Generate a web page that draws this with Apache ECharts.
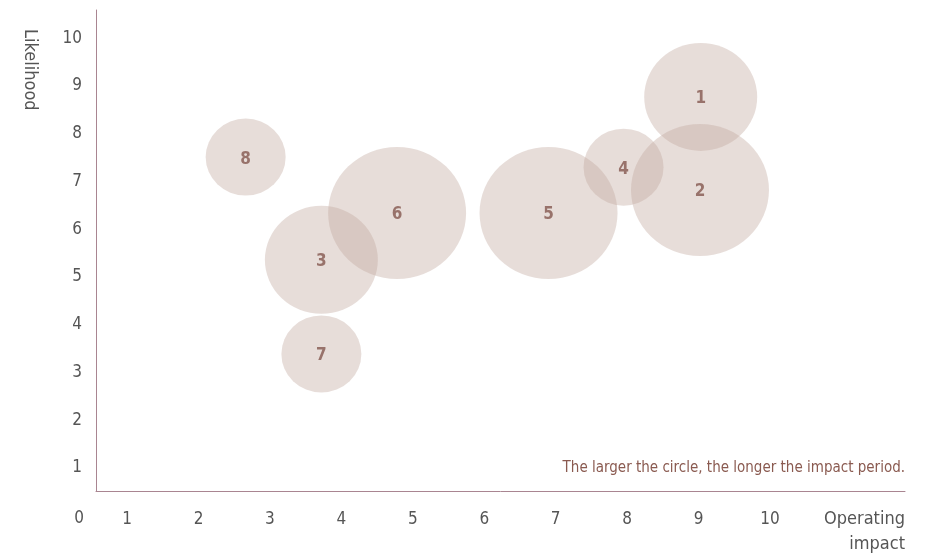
<!DOCTYPE html>
<html>
<head>
<meta charset="utf-8">
<script src="https://cdn.jsdelivr.net/npm/echarts@6/dist/echarts.min.js"></script>
<style>
  html, body { margin: 0; padding: 0; background: #fff; }
  #chart { width: 926px; height: 556px; }
</style>
</head>
<body>
<div id="chart"></div>
<script>
// risk data
const riskIds = ['1', '2', '3', '4', '5', '6', '7', '8'];
const impactValues = [9.03, 9.02, 3.72, 7.95, 6.90, 4.78, 3.72, 2.66];
const likelihoodValues = [8.77, 6.82, 5.36, 7.30, 6.34, 6.34, 3.39, 7.51];
// impact period: 1 = short, 2 = medium, 3 = long
const periodValues = [2, 3, 2, 1, 3, 3, 1, 1];
const tickValues = [1, 2, 3, 4, 5, 6, 7, 8, 9, 10];

const font = '"Liberation Sans Narrow", "DejaVu Sans Condensed", "Noto Sans", sans-serif';
const sizeByPeriod = { 1: [80, 77], 2: [113, 108], 3: [138, 132] };

const chart = echarts.init(document.getElementById('chart'));

chart.setOption({
  animation: false,
  grid: { left: 96, right: 21, top: 10, bottom: 65 },
  xAxis: {
    type: 'value',
    min: 0.565,
    max: 11.89,
    axisLine: { show: true, lineStyle: { color: '#a98591', width: 1 } },
    axisTick: { show: false },
    splitLine: { show: false },
    axisLabel: {
      customValues: tickValues,
      color: '#555',
      fontSize: 17,
      fontFamily: font,
      margin: 20
    }
  },
  yAxis: {
    type: 'value',
    min: 0.52,
    max: 10.59,
    axisLine: { show: true, lineStyle: { color: '#a98591', width: 1 } },
    axisTick: { show: false },
    splitLine: { show: false },
    axisLabel: {
      customValues: tickValues,
      color: '#555',
      fontSize: 17,
      fontFamily: font,
      margin: 14
    }
  },
  graphic: [
    {
      type: 'text', x: 79, y: 519,
      style: { text: '0', fill: '#555', font: '17px ' + font, align: 'center', verticalAlign: 'middle' }
    },
    {
      type: 'text', x: 30, y: 29, rotation: -Math.PI / 2,
      style: { text: 'Likelihood', fill: '#555', font: '18px ' + font, align: 'left', verticalAlign: 'middle' }
    },
    {
      type: 'text', x: 905, y: 507,
      style: { text: 'Operating\nimpact', fill: '#555', font: '18px ' + font, align: 'right', verticalAlign: 'top', lineHeight: 25 }
    },
    {
      type: 'text', x: 905, y: 468,
      style: { text: 'The larger the circle, the longer the impact period.', fill: '#8a5a50', font: '15px ' + font, align: 'right', verticalAlign: 'middle' }
    }
  ],
  series: [{
    type: 'scatter',
    data: riskIds.map((id, i) => ({
      name: id,
      value: [impactValues[i], likelihoodValues[i], periodValues[i]]
    })),
    symbolSize: v => sizeByPeriod[v[2]],
    itemStyle: { color: 'rgba(195,171,159,0.5)' },
    label: {
      show: true,
      position: 'inside',
      offset: [0, 2],
      formatter: p => p.name,
      color: '#85574f',
      fontSize: 17,
      fontWeight: 'bold',
      fontFamily: font
    }
  }]
});
</script>
</body>
</html>
